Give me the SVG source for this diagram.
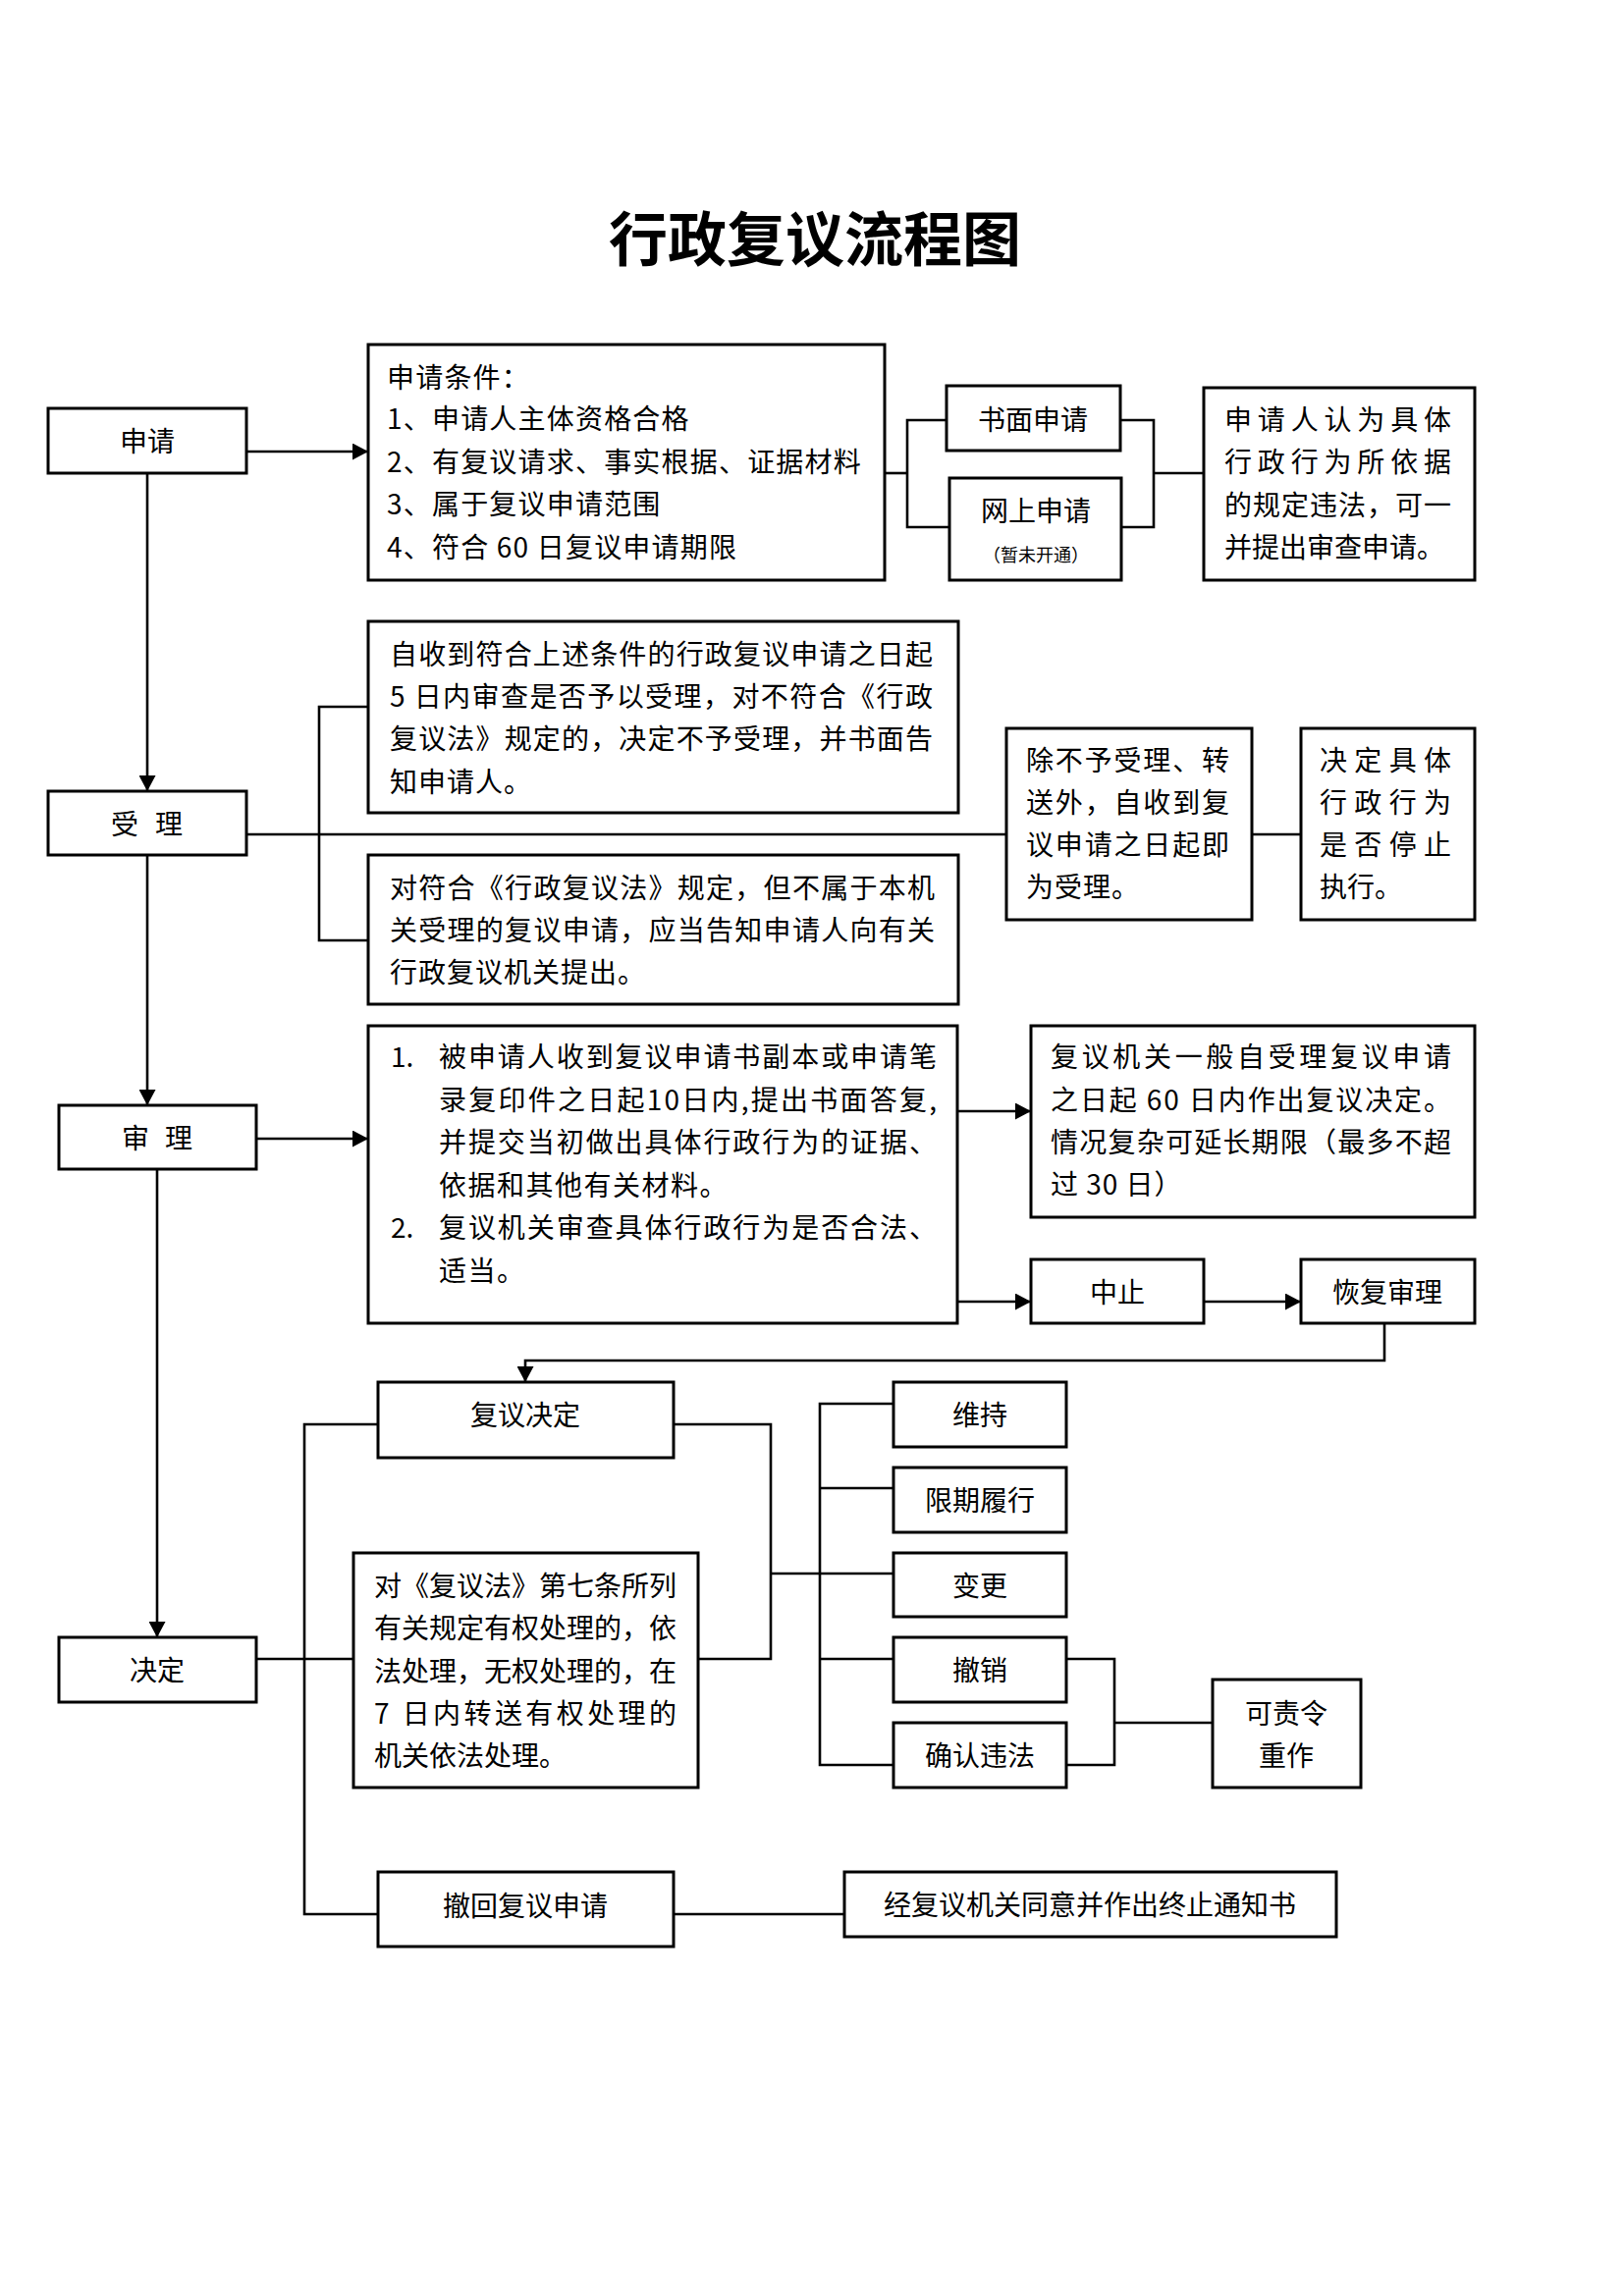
<svg xmlns="http://www.w3.org/2000/svg" width="1654" height="2339" viewBox="0 0 1654 2339">
<defs>
<style>
.box{fill:#fff;stroke:#000;stroke-width:3}
.ln{fill:none;stroke:#000;stroke-width:2.6}
text{font-family:"Noto Sans CJK SC","Noto Sans CJK JP",sans-serif;font-size:28px;fill:#000}
.c{text-anchor:middle}
.small{font-size:18px}
.title{font-size:60px;font-weight:bold}
</style>
<marker id="ah" markerUnits="userSpaceOnUse" markerWidth="17" markerHeight="17" refX="16" refY="8.5" orient="auto">
<path d="M0,0 L16,8.5 L0,17 z" fill="#000"/>
</marker>
</defs>
<rect width="1654" height="2339" fill="#fff"/>
<text class="title c" x="830" y="266">行政复议流程图</text>

<g id="connectors">
<line class="ln" x1="251" y1="460" x2="375" y2="460" marker-end="url(#ah)"/>
<line class="ln" x1="150" y1="482" x2="150" y2="806" marker-end="url(#ah)"/>
<polyline class="ln" points="901,482 924,482"/>
<polyline class="ln" points="964,428 924,428 924,537 967,537"/>
<polyline class="ln" points="1141,428 1175,428 1175,537 1142,537"/>
<polyline class="ln" points="1175,482 1226,482"/>
<line class="ln" x1="251" y1="850" x2="1025" y2="850"/>
<polyline class="ln" points="375,720 325,720 325,958 375,958"/>
<line class="ln" x1="1275" y1="850" x2="1325" y2="850"/>
<line class="ln" x1="150" y1="871" x2="150" y2="1126" marker-end="url(#ah)"/>
<line class="ln" x1="261" y1="1160" x2="375" y2="1160" marker-end="url(#ah)"/>
<line class="ln" x1="975" y1="1132" x2="1050" y2="1132" marker-end="url(#ah)"/>
<line class="ln" x1="975" y1="1326" x2="1050" y2="1326" marker-end="url(#ah)"/>
<line class="ln" x1="1226" y1="1326" x2="1325" y2="1326" marker-end="url(#ah)"/>
<polyline class="ln" points="1410,1348 1410,1386 535,1386 535,1408" marker-end="url(#ah)"/>
<line class="ln" x1="160" y1="1191" x2="160" y2="1668" marker-end="url(#ah)"/>
<line class="ln" x1="261" y1="1690" x2="360" y2="1690"/>
<polyline class="ln" points="385,1451 310,1451 310,1950 385,1950"/>
<polyline class="ln" points="686,1451 785,1451 785,1690 711,1690"/>
<polyline class="ln" points="785,1603 835,1603"/>
<polyline class="ln" points="910,1430 835,1430 835,1798 910,1798"/>
<line class="ln" x1="835" y1="1516" x2="910" y2="1516"/>
<line class="ln" x1="835" y1="1603" x2="910" y2="1603"/>
<line class="ln" x1="835" y1="1690" x2="910" y2="1690"/>
<polyline class="ln" points="1086,1690 1135,1690 1135,1798 1086,1798"/>
<line class="ln" x1="1135" y1="1755" x2="1235" y2="1755"/>
<line class="ln" x1="686" y1="1950" x2="860" y2="1950"/>
</g>

<g id="n-shenqing">
<rect class="box" x="49" y="416" width="202" height="66"/>
<text class="c" x="150" y="460">申请</text>
</g>
<g id="n-tiaojian">
<rect class="box" x="375" y="351" width="526" height="240"/>
<text x="394" y="395" letter-spacing="1.2">申请条件：</text>
<text x="394" y="437" letter-spacing="1.2">1、申请人主体资格合格</text>
<text x="394" y="481" letter-spacing="1.2">2、有复议请求、事实根据、证据材料</text>
<text x="394" y="524" letter-spacing="1.2">3、属于复议申请范围</text>
<text x="394" y="568" letter-spacing="1.2">4、符合 60 日复议申请期限</text>
</g>
<g id="n-shumian">
<rect class="box" x="964" y="393" width="177" height="66"/>
<text class="c" x="1052" y="438">书面申请</text>
</g>
<g id="n-wangshang">
<rect class="box" x="967" y="487" width="175" height="104"/>
<text class="c" x="1055" y="531">网上申请</text>
<text class="c small" x="1055" y="572">（暂未开通）</text>
</g>
<g id="n-renwei">
<rect class="box" x="1226" y="395" width="276" height="196"/>
<text x="1247" y="438" textLength="231" lengthAdjust="spacing">申请人认为具体</text>
<text x="1247" y="481" textLength="231" lengthAdjust="spacing">行政行为所依据</text>
<text x="1247" y="525" textLength="231" lengthAdjust="spacing">的规定违法，可一</text>
<text x="1247" y="568">并提出审查申请。</text>
</g>

<g id="n-shouli">
<rect class="box" x="49" y="806" width="202" height="65"/>
<text x="113 141 158" y="850">受 理</text>
</g>
<g id="n-accept1">
<rect class="box" x="375" y="633" width="601" height="195"/>
<text x="397" y="677" textLength="553" lengthAdjust="spacing">自收到符合上述条件的行政复议申请之日起</text>
<text x="397" y="720" textLength="553" lengthAdjust="spacing">5 日内审查是否予以受理，对不符合《行政</text>
<text x="397" y="763" textLength="553" lengthAdjust="spacing">复议法》规定的，决定不予受理，并书面告</text>
<text x="397" y="807" letter-spacing="1">知申请人。</text>
</g>
<g id="n-accept2">
<rect class="box" x="375" y="871" width="601" height="152"/>
<text x="397" y="915" textLength="555" lengthAdjust="spacing">对符合《行政复议法》规定，但不属于本机</text>
<text x="397" y="958" textLength="555" lengthAdjust="spacing">关受理的复议申请，应当告知申请人向有关</text>
<text x="397" y="1001" letter-spacing="1">行政复议机关提出。</text>
</g>
<g id="n-chubu">
<rect class="box" x="1025" y="742" width="250" height="195"/>
<text x="1045" y="785" textLength="207" lengthAdjust="spacing">除不予受理、转</text>
<text x="1045" y="828" textLength="207" lengthAdjust="spacing">送外，自收到复</text>
<text x="1045" y="871" textLength="207" lengthAdjust="spacing">议申请之日起即</text>
<text x="1045" y="914" letter-spacing="1">为受理。</text>
</g>
<g id="n-tingzhi">
<rect class="box" x="1325" y="742" width="177" height="195"/>
<text x="1344" y="785" textLength="134" lengthAdjust="spacing">决定具体</text>
<text x="1344" y="828" textLength="134" lengthAdjust="spacing">行政行为</text>
<text x="1344" y="871" textLength="134" lengthAdjust="spacing">是否停止</text>
<text x="1344" y="914">执行。</text>
</g>

<g id="n-shenli">
<rect class="box" x="60" y="1126" width="201" height="65"/>
<text x="124 152 168" y="1170">审 理</text>
</g>
<g id="n-review">
<rect class="box" x="375" y="1045" width="600" height="303"/>
<text x="398" y="1087">1.</text>
<text x="447" y="1087" textLength="507" lengthAdjust="spacing">被申请人收到复议申请书副本或申请笔</text>
<text x="447" y="1131" textLength="507" lengthAdjust="spacing">录复印件之日起10日内,提出书面答复,</text>
<text x="447" y="1174" textLength="507" lengthAdjust="spacing">并提交当初做出具体行政行为的证据、</text>
<text x="447" y="1218" letter-spacing="1.5">依据和其他有关材料。</text>
<text x="398" y="1261">2.</text>
<text x="447" y="1261" textLength="507" lengthAdjust="spacing">复议机关审查具体行政行为是否合法、</text>
<text x="447" y="1305" letter-spacing="1.5">适当。</text>
</g>
<g id="n-yiban">
<rect class="box" x="1050" y="1045" width="452" height="195"/>
<text x="1070" y="1087" textLength="408" lengthAdjust="spacing">复议机关一般自受理复议申请</text>
<text x="1070" y="1131" textLength="408" lengthAdjust="spacing">之日起 60 日内作出复议决定。</text>
<text x="1070" y="1174" textLength="408" lengthAdjust="spacing">情况复杂可延长期限（最多不超</text>
<text x="1070" y="1217" letter-spacing="1">过 30 日）</text>
</g>
<g id="n-zhongzhi">
<rect class="box" x="1050" y="1283" width="176" height="65"/>
<text class="c" x="1138" y="1327">中止</text>
</g>
<g id="n-huifu">
<rect class="box" x="1325" y="1283" width="177" height="65"/>
<text class="c" x="1413" y="1327">恢复审理</text>
</g>

<g id="n-fuyijueding">
<rect class="box" x="385" y="1408" width="301" height="77"/>
<text class="c" x="535" y="1452">复议决定</text>
</g>
<g id="n-jueding">
<rect class="box" x="60" y="1668" width="201" height="66"/>
<text class="c" x="160" y="1712">决定</text>
</g>
<g id="n-diqitiao">
<rect class="box" x="360" y="1582" width="351" height="239"/>
<text x="381" y="1626" textLength="308" lengthAdjust="spacing">对《复议法》第七条所列</text>
<text x="381" y="1669" textLength="308" lengthAdjust="spacing">有关规定有权处理的，依</text>
<text x="381" y="1713" textLength="308" lengthAdjust="spacing">法处理，无权处理的，在</text>
<text x="381" y="1756" textLength="308" lengthAdjust="spacing">7 日内转送有权处理的</text>
<text x="381" y="1799">机关依法处理。</text>
</g>
<g id="n-chehui">
<rect class="box" x="385" y="1907" width="301" height="76"/>
<text class="c" x="535" y="1952">撤回复议申请</text>
</g>
<g id="n-weichi">
<rect class="box" x="910" y="1408" width="176" height="66"/>
<text class="c" x="998" y="1452">维持</text>
</g>
<g id="n-xianqi">
<rect class="box" x="910" y="1495" width="176" height="66"/>
<text class="c" x="998" y="1539">限期履行</text>
</g>
<g id="n-biangeng">
<rect class="box" x="910" y="1582" width="176" height="65"/>
<text class="c" x="998" y="1626">变更</text>
</g>
<g id="n-chexiao">
<rect class="box" x="910" y="1668" width="176" height="66"/>
<text class="c" x="998" y="1712">撤销</text>
</g>
<g id="n-queren">
<rect class="box" x="910" y="1755" width="176" height="66"/>
<text class="c" x="998" y="1799">确认违法</text>
</g>
<g id="n-kezeling">
<rect class="box" x="1235" y="1711" width="151" height="110"/>
<text class="c" x="1310" y="1756">可责令</text>
<text class="c" x="1310" y="1799">重作</text>
</g>
<g id="n-zhongzhitongzhi">
<rect class="box" x="860" y="1907" width="501" height="66"/>
<text class="c" x="1110" y="1951">经复议机关同意并作出终止通知书</text>
</g>
</svg>
